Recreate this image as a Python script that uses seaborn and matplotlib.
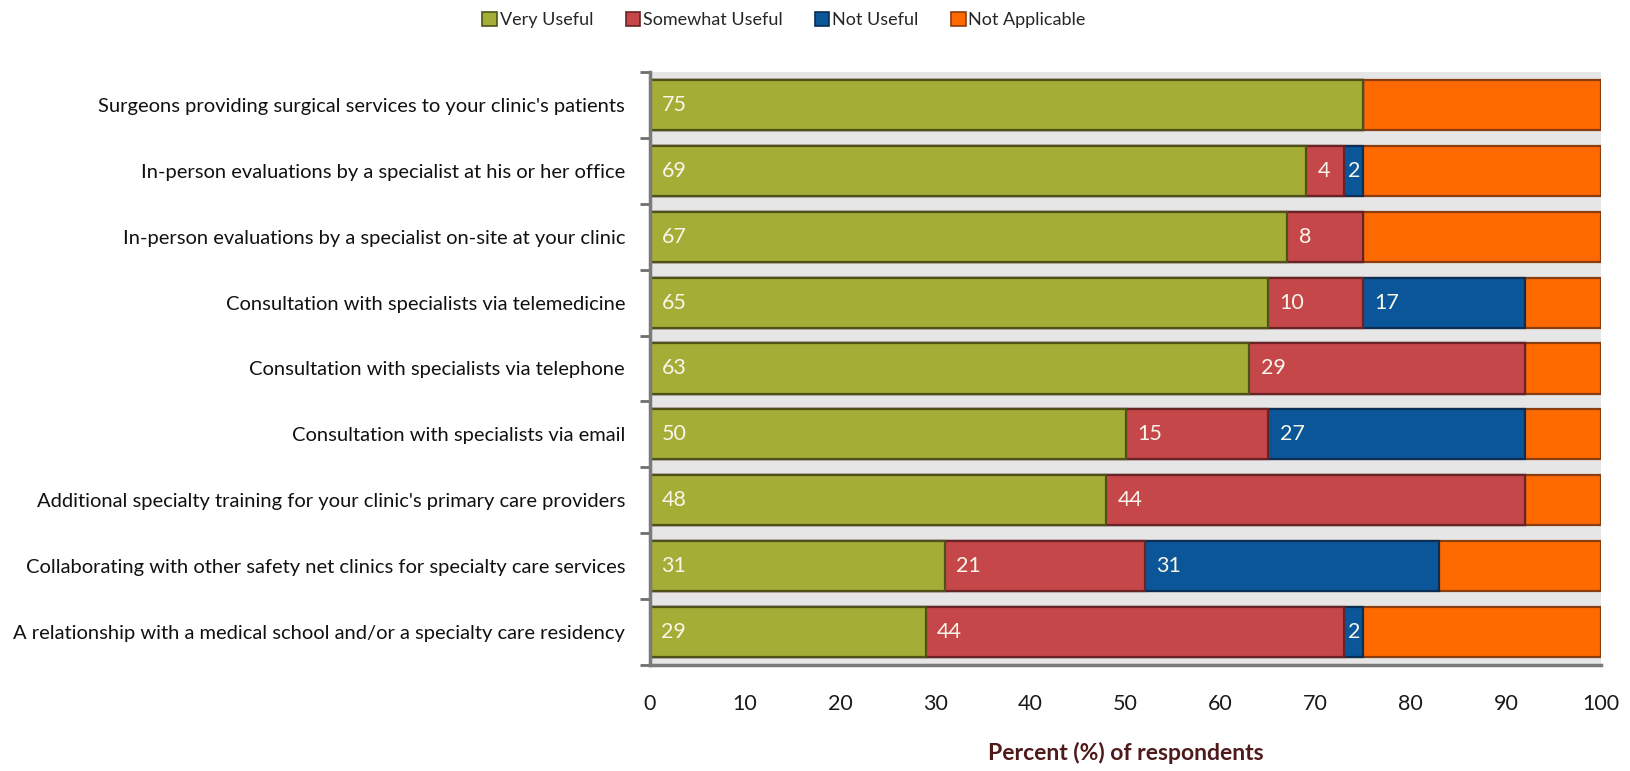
import numpy as np
import pandas as pd
import matplotlib
matplotlib.use("Agg")
import matplotlib.pyplot as plt
import seaborn as sns
from matplotlib.patches import Patch
from matplotlib.ticker import FixedLocator

categories = [
    "Surgeons providing surgical services to your clinic's patients",
    "In-person evaluations by a specialist at his or her office",
    "In-person evaluations by a specialist on-site at your clinic",
    "Consultation with specialists via telemedicine",
    "Consultation with specialists via telephone",
    "Consultation with specialists via email",
    "Additional specialty training for your clinic's primary care providers",
    "Collaborating with other safety net clinics for specialty care services",
    "A relationship with a medical school and/or a specialty care residency",
]
very_useful = [75, 69, 67, 65, 63, 50, 48, 31, 29]
somewhat_useful = [0, 4, 8, 10, 29, 15, 44, 21, 44]
not_useful = [0, 2, 0, 17, 0, 27, 0, 31, 2]
not_applicable = [25, 25, 25, 8, 8, 8, 8, 17, 25]

series_names = ["Very Useful", "Somewhat Useful", "Not Useful", "Not Applicable"]
series_values = [very_useful, somewhat_useful, not_useful, not_applicable]
fill_colors = ["#A4AD36", "#C5474A", "#0B5699", "#FF6A00"]
edge_colors = ["#4E5218", "#6A2224", "#0A2E55", "#8A3E10"]
x_ticks = [0, 10, 20, 30, 40, 50, 60, 70, 80, 90, 100]

sns.set_theme(style="white")
plt.rcParams["font.family"] = ["Lato", "DejaVu Sans"]

df = pd.DataFrame({name: vals for name, vals in zip(series_names, series_values)})
df["category"] = categories
cum = df[series_names].cumsum(axis=1)
starts = cum.shift(1, axis=1).fillna(0)

fig = plt.figure(figsize=(16.3, 7.71), dpi=100)
ax = fig.add_axes([0.3988, 0.1375, 0.5834, 0.7691])
ax.set_facecolor("#E6E6E6")

# stacked bars: draw cumulative totals from the outermost segment inward
for i in range(len(series_names) - 1, -1, -1):
    sns.barplot(
        x=cum[series_names[i]], y=df["category"], orient="h",
        color=fill_colors[i], edgecolor=edge_colors[i], linewidth=1.6,
        width=0.76, saturation=1, ax=ax,
    )

# value labels for the first three series; narrow segments get centred labels
for i in range(3):
    for row, (v, s) in enumerate(zip(series_values[i], starts[series_names[i]])):
        if v <= 0:
            continue
        if v < 3:
            ax.text(s + v / 2, row, f"{v}", color="#F8F6EA", fontsize=15.5,
                    va="center", ha="center")
        else:
            ax.text(s + 1.2, row, f"{v}", color="#F8F6EA", fontsize=15.5,
                    va="center", ha="left")

ax.set_xlim(0, 100)
ax.set_ylim(len(categories) - 0.5, -0.5)
ax.set_xticks(x_ticks)
ax.set_xticklabels([str(t) for t in x_ticks], fontsize=15.5, color="#1a1a1a")
ax.tick_params(axis="x", direction="out", length=7, width=2, color="#6E6E50", pad=14)
ax.tick_params(axis="y", which="major", length=0, pad=18, labelsize=14.5, labelcolor="#111111")
ax.yaxis.set_minor_locator(FixedLocator(np.arange(-0.5, len(categories), 1.0)))
ax.tick_params(axis="y", which="minor", direction="out", length=7, width=2, color="#6E6E6E", left=True)

ax.set_ylabel("")
ax.set_xlabel("Percent (%) of respondents", fontsize=16.5, fontweight="bold",
              color="#4E1A1A", labelpad=20)

for side in ["top", "right"]:
    ax.spines[side].set_visible(False)
for side in ["left", "bottom"]:
    ax.spines[side].set_color("#7A7A7A")
    ax.spines[side].set_linewidth(2.5)

handles = [Patch(facecolor=c, edgecolor=e, linewidth=1.2, label=n)
           for n, c, e in zip(series_names, fill_colors, edge_colors)]
fig.legend(handles=handles, loc="center", bbox_to_anchor=(0.481, 0.974), ncol=4,
           frameon=False, fontsize=13, handlelength=0.8, handleheight=0.8,
           handletextpad=0.15, columnspacing=1.8)

fig.savefig("out.png", dpi=100, facecolor="white")
